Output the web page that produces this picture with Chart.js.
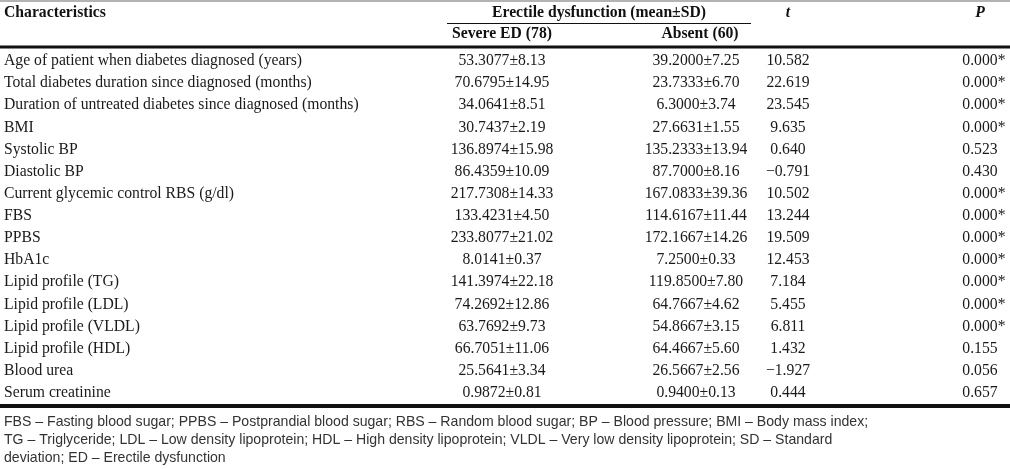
<!DOCTYPE html>
<html>
<head>
<meta charset="utf-8">
<script src="https://cdn.jsdelivr.net/npm/chart.js@4.4.1/dist/chart.umd.min.js"></script>
<style>
html,body{margin:0;padding:0;background:#fff;}
#c{display:block;}
</style>
</head>
<body>
<canvas id="c" width="1010" height="469"></canvas>
<script>
// ---- Data ----
const characteristics = [
  "Age of patient when diabetes diagnosed (years)",
  "Total diabetes duration since diagnosed (months)",
  "Duration of untreated diabetes since diagnosed (months)",
  "BMI",
  "Systolic BP",
  "Diastolic BP",
  "Current glycemic control RBS (g/dl)",
  "FBS",
  "PPBS",
  "HbA1c",
  "Lipid profile (TG)",
  "Lipid profile (LDL)",
  "Lipid profile (VLDL)",
  "Lipid profile (HDL)",
  "Blood urea",
  "Serum creatinine"
];
const severeMean = [53.3077, 70.6795, 34.0641, 30.7437, 136.8974, 86.4359, 217.7308, 133.4231, 233.8077, 8.0141, 141.3974, 74.2692, 63.7692, 66.7051, 25.5641, 0.9872];
const severeSD   = [8.13, 14.95, 8.51, 2.19, 15.98, 10.09, 14.33, 4.50, 21.02, 0.37, 22.18, 12.86, 9.73, 11.06, 3.34, 0.81];
const absentMean = [39.2000, 23.7333, 6.3000, 27.6631, 135.2333, 87.7000, 167.0833, 114.6167, 172.1667, 7.2500, 119.8500, 64.7667, 54.8667, 64.4667, 26.5667, 0.9400];
const absentSD   = [7.25, 6.70, 3.74, 1.55, 13.94, 8.16, 39.36, 11.44, 14.26, 0.33, 7.80, 4.62, 3.15, 5.60, 2.56, 0.13];
const tValues    = [10.582, 22.619, 23.545, 9.635, 0.640, -0.791, 10.502, 13.244, 19.509, 12.453, 7.184, 5.455, 6.811, 1.432, -1.927, 0.444];
const pValues    = [0.000, 0.000, 0.000, 0.000, 0.523, 0.430, 0.000, 0.000, 0.000, 0.000, 0.000, 0.000, 0.000, 0.155, 0.056, 0.657];
const headerTop  = ["Characteristics", "Erectile dysfunction (mean\u00B1SD)", "t", "P"];
const headerSub  = ["Severe ED (78)", "Absent (60)"];
const footnotes  = [
  "FBS \u2013 Fasting blood sugar; PPBS \u2013 Postprandial blood sugar; RBS \u2013 Random blood sugar; BP \u2013 Blood pressure; BMI \u2013 Body mass index;",
  "TG \u2013 Triglyceride; LDL \u2013 Low density lipoprotein; HDL \u2013 High density lipoprotein; VLDL \u2013 Very low density lipoprotein; SD \u2013 Standard",
  "deviation; ED \u2013 Erectile dysfunction"
];

// ---- Layout / style (not data) ----
const colAnchor = { label: 4, severe: 502, absent: 696, t: 788, p: 980, groupL: 447, groupR: 751 };
const serif = "'Liberation Serif', 'Times New Roman', serif";
const sans = "'Liberation Sans', Arial, sans-serif";
const FS = 15.7;
const fmt = (v, d) => {
  const s = Math.abs(v).toFixed(d);
  return (v < 0 ? "\u2212" : "") + s;
};

const tablePlugin = {
  id: 'tablePlugin',
  afterDraw(chart) {
    const ctx = chart.ctx;
    const x = chart.scales.x, y = chart.scales.y;
    const area = chart.chartArea;
    const px = v => x.getPixelForValue(v);
    ctx.save();
    ctx.textBaseline = 'middle';

    // top thin rule
    ctx.strokeStyle = '#9a9a9a';
    ctx.lineWidth = 1.5;
    ctx.beginPath(); ctx.moveTo(px(0), 1); ctx.lineTo(px(1010), 1); ctx.stroke();

    // header
    ctx.fillStyle = '#111';
    ctx.font = "bold " + FS + "px " + serif;
    ctx.textAlign = 'left';
    ctx.fillText(headerTop[0], px(colAnchor.label), 13);
    ctx.textAlign = 'center';
    ctx.fillText(headerTop[1], px((colAnchor.groupL + colAnchor.groupR) / 2), 13);
    ctx.font = "italic bold " + FS + "px " + serif;
    ctx.fillText(headerTop[2], px(colAnchor.t), 13);
    ctx.fillText(headerTop[3], px(colAnchor.p), 13);
    ctx.font = "bold " + FS + "px " + serif;
    ctx.fillText(headerSub[0], px(colAnchor.severe), 34);
    ctx.fillText(headerSub[1], px(colAnchor.absent + 4), 34);

    // group underline
    ctx.strokeStyle = '#111';
    ctx.lineWidth = 1;
    ctx.beginPath(); ctx.moveTo(px(colAnchor.groupL), 23.5); ctx.lineTo(px(colAnchor.groupR), 23.5); ctx.stroke();

    // thick rule under header
    ctx.lineWidth = 3;
    ctx.beginPath(); ctx.moveTo(px(0), area.top - 3); ctx.lineTo(px(1010), area.top - 3); ctx.stroke();

    // body rows
    ctx.font = FS + "px " + serif;
    ctx.fillStyle = '#1a1a1a';
    characteristics.forEach((lab, i) => {
      const yy = y.getPixelForValue(i);
      ctx.textAlign = 'left';
      ctx.fillText(lab, px(colAnchor.label), yy);
      ctx.textAlign = 'center';
      ctx.fillText(fmt(severeMean[i], 4) + "\u00B1" + fmt(severeSD[i], 2), px(colAnchor.severe), yy);
      ctx.fillText(fmt(absentMean[i], 4) + "\u00B1" + fmt(absentSD[i], 2), px(colAnchor.absent), yy);
      ctx.fillText(fmt(tValues[i], 3), px(colAnchor.t), yy);
      const sig = pValues[i] < 0.05;
      const pStr = fmt(pValues[i], 3);
      if (sig) {
        ctx.textAlign = 'left';
        const w = ctx.measureText(pStr).width;
        ctx.fillText(pStr + "*", px(colAnchor.p) - w / 2, yy);
      } else {
        ctx.textAlign = 'center';
        ctx.fillText(pStr, px(colAnchor.p), yy);
      }
    });

    // thick bottom rule
    ctx.strokeStyle = '#111';
    ctx.lineWidth = 4;
    ctx.beginPath(); ctx.moveTo(px(0), area.bottom + 2); ctx.lineTo(px(1010), area.bottom + 2); ctx.stroke();

    // footnotes
    ctx.font = "14.1px " + sans;
    ctx.fillStyle = '#333';
    ctx.textAlign = 'left';
    footnotes.forEach((line, k) => {
      ctx.fillText(line, px(colAnchor.label), area.bottom + 18 + k * 18);
    });
    ctx.restore();
  }
};

new Chart(document.getElementById('c'), {
  type: 'scatter',
  data: { labels: characteristics, datasets: [] },
  options: {
    responsive: false,
    animation: false,
    events: [],
    layout: { padding: { top: 50, bottom: 65, left: 0, right: 0 } },
    plugins: { legend: { display: false }, tooltip: { enabled: false }, title: { display: false } },
    scales: {
      x: { type: 'linear', min: 0, max: 1010, display: false },
      y: { type: 'category', labels: characteristics, offset: true, display: false }
    }
  },
  plugins: [tablePlugin]
});
</script>
</body>
</html>
